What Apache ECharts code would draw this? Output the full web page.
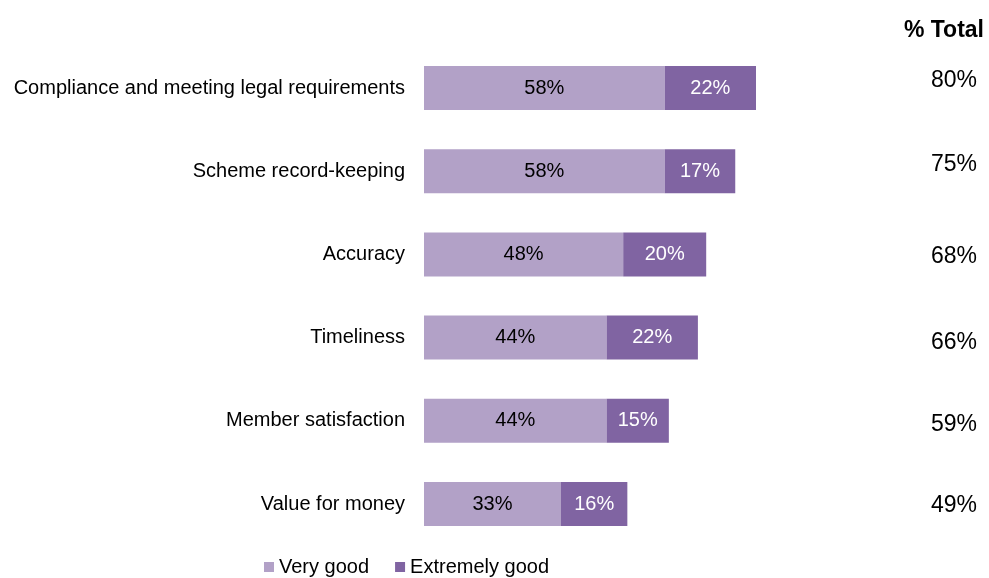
<!DOCTYPE html>
<html>
<head>
<meta charset="utf-8">
<script src="https://cdn.jsdelivr.net/npm/echarts@6/dist/echarts.min.js"></script>
<style>
  html, body { margin: 0; padding: 0; background: #ffffff; }
  #chart { width: 989px; height: 578px; }
</style>
</head>
<body>
<div id="chart"></div>
<script>
// Ratings of the scheme administrator, by aspect
const categories = [
  'Compliance and meeting legal requirements',
  'Scheme record-keeping',
  'Accuracy',
  'Timeliness',
  'Member satisfaction',
  'Value for money'
];
const veryGood = [58, 58, 48, 44, 44, 33];
const extremelyGood = [22, 17, 20, 22, 15, 16];
const totals = [80, 75, 68, 66, 59, 49];
const seriesNames = ['Very good', 'Extremely good'];
const totalHeader = '% Total';

// small vertical nudges for the total column text (px)
const totalNudge = [-7, -7, 2, 5, 4, 2];

const FONT = '"Liberation Sans", Arial, sans-serif';
const LIGHT = '#b2a1c7';
const DARK = '#8064a2';

const chart = echarts.init(document.getElementById('chart'), null, { renderer: 'canvas' });

const grids = [
  { left: 424, top: 46.4, width: 415, height: 499.2 },
  { left: 880, top: 46.4, width: 97, height: 499.2 }
];

const option = {
  animation: false,
  backgroundColor: '#ffffff',
  textStyle: { fontFamily: FONT },
  grid: grids,
  xAxis: [
    { gridIndex: 0, type: 'value', min: 0, max: 100, show: false },
    { gridIndex: 1, type: 'value', min: 0, max: 1, show: false }
  ],
  yAxis: [
    {
      gridIndex: 0,
      type: 'category',
      inverse: true,
      data: categories,
      axisLine: { show: false },
      axisTick: { show: false },
      splitLine: { show: false },
      axisLabel: { color: '#000000', fontSize: 20, fontFamily: FONT, margin: 19 }
    },
    {
      gridIndex: 1,
      type: 'category',
      inverse: true,
      data: categories,
      show: false
    }
  ],
  legend: {
    data: seriesNames,
    left: 259,
    top: 552,
    icon: 'rect',
    itemWidth: 10,
    itemHeight: 10,
    itemGap: 26,
    textStyle: { color: '#000000', fontSize: 20, fontFamily: FONT }
  },
  title: {
    text: totalHeader,
    right: 0,
    top: 14,
    textStyle: { color: '#000000', fontSize: 23, fontWeight: 'bold', fontFamily: FONT }
  },
  series: [
    {
      name: seriesNames[0],
      type: 'bar',
      stack: 'rating',
      barWidth: 44,
      data: veryGood,
      itemStyle: { color: LIGHT },
      label: {
        show: true,
        position: 'inside',
        color: '#000000',
        fontSize: 20,
        fontFamily: FONT,
        formatter: p => p.value + '%'
      }
    },
    {
      name: seriesNames[1],
      type: 'bar',
      stack: 'rating',
      barWidth: 44,
      data: extremelyGood,
      itemStyle: { color: DARK },
      label: {
        show: true,
        position: 'inside',
        color: '#ffffff',
        fontSize: 20,
        fontFamily: FONT,
        formatter: p => p.value + '%'
      }
    },
    {
      name: totalHeader,
      type: 'scatter',
      xAxisIndex: 1,
      yAxisIndex: 1,
      symbolSize: 0,
      silent: true,
      itemStyle: { opacity: 1 },
      data: totals.map((t, i) => ({
        value: [1, i, t],
        label: { offset: [0, totalNudge[i]] }
      })),
      label: {
        show: true,
        position: 'left',
        distance: 0,
        opacity: 1,
        color: '#000000',
        fontSize: 23,
        fontFamily: FONT,
        formatter: p => p.value[2] + '%'
      }
    }
  ]
};

chart.setOption(option);
</script>
</body>
</html>
